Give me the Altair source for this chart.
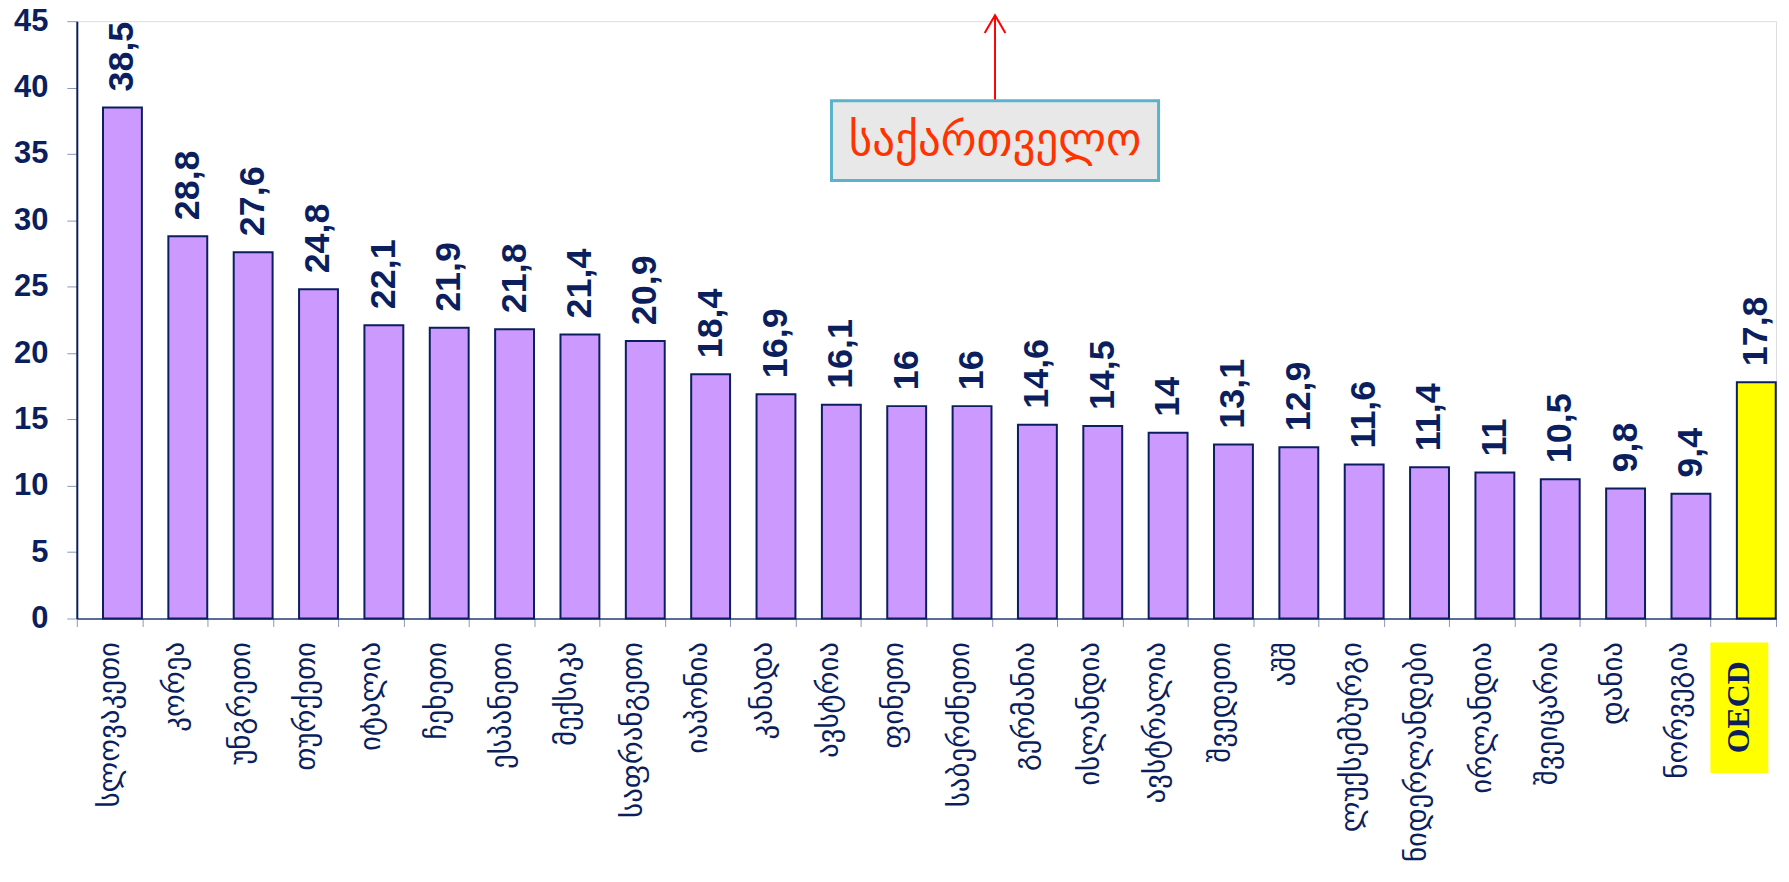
import altair as alt
import pandas as pd

categories = ["სლოვაკეთი", "კორეა", "უნგრეთი", "თურქეთი", "იტალია", "ჩეხეთი",
              "ესპანეთი", "მექსიკა", "საფრანგეთი", "იაპონია", "კანადა", "ავსტრია",
              "ფინეთი", "საბერძნეთი", "გერმანია", "ისლანდია", "ავსტრალია", "შვედეთი",
              "აშშ", "ლუქსემბურგი", "ნიდერლანდები", "ირლანდია", "შვეიცარია", "დანია",
              "ნორვეგია", "OECD"]
values = [38.5, 28.8, 27.6, 24.8, 22.1, 21.9, 21.8, 21.4, 20.9, 18.4, 16.9, 16.1,
          16, 16, 14.6, 14.5, 14, 13.1, 12.9, 11.6, 11.4, 11, 10.5, 9.8, 9.4, 17.8]
y_ticks = [0, 5, 10, 15, 20, 25, 30, 35, 40, 45]

# annotation: Georgia is off the scale (arrow points above 45)
note_text = "საქართველო"
note_category = "გერმანია"
note_y = 36.0
arrow_from = 39.0
arrow_to = 45.45

labels = [f"{v:g}".replace(".", ",") for v in values]
df = pd.DataFrame({"cat": categories, "val": values, "label": labels})
note_df = pd.DataFrame({"cat": [note_category], "y": [note_y], "y1": [arrow_from],
                        "y2": [arrow_to], "t": [note_text]})
oecd_df = pd.DataFrame({"cat": ["OECD"], "t": ["OECD"]})

NAVY = "#0b1f5e"
W, H = 1704, 599

xscale = alt.Scale(domain=categories, paddingInner=0, paddingOuter=0)
yscale = alt.Scale(domain=[0, 45], nice=False)

x_enc = alt.X("cat:N", sort=categories, scale=xscale, title=None,
              axis=alt.Axis(labelAngle=-90, labelFont="DejaVu Sans", labelFontSize=29,
                            labelColor=NAVY, labelPadding=15, tickBand="extent",
                            tickSize=8, tickColor="#8a98bb", domainColor="#2c3f7a",
                            domainWidth=1.5, labelLimit=400,
                            labelExpr="datum.value == 'OECD' ? '' : datum.value"))
y_enc = alt.Y("val:Q", scale=yscale, title=None,
              axis=alt.Axis(values=y_ticks, labelFont="Liberation Sans", labelFontSize=31,
                            labelFontWeight="bold", labelColor=NAVY, labelPadding=19,
                            tickSize=10, tickColor="#8a98bb", domainColor=NAVY,
                            domainWidth=2, grid=False))

bars = alt.Chart(df).mark_bar(width=39, xOffset=13, stroke=NAVY, strokeWidth=2).encode(
    x=x_enc, y=y_enc,
    color=alt.condition(alt.datum.cat == "OECD", alt.value("#ffff00"), alt.value("#cc99ff")),
)

texts = alt.Chart(df).mark_text(angle=270, align="left", baseline="middle", dx=16,
                                xOffset=13, font="Liberation Sans", fontSize=36,
                                fontWeight="bold", color=NAVY).encode(
    x=alt.X("cat:N", sort=categories, scale=xscale),
    y=alt.Y("val:Q", scale=yscale),
    text="label:N",
)

xn = alt.X("cat:N", sort=categories, scale=xscale, bandPosition=0.05)

arrow_line = alt.Chart(note_df).mark_rule(color="#ff0000", strokeWidth=2).encode(
    x=xn, y=alt.Y("y1:Q", scale=yscale), y2="y2:Q")
arrow_head = alt.Chart(note_df).mark_point(
    shape="M-1,1.72L0,0L1,1.72", size=430, filled=False, stroke="#ff0000",
    strokeWidth=2, opacity=1).encode(x=xn, y=alt.Y("y2:Q", scale=yscale))
note_box = alt.Chart(note_df).mark_point(
    shape="M-1,-0.244H1V0.244H-1Z", size=328 * 328, filled=True, fill="#e8e8e8",
    stroke="#5ab3cb", strokeWidth=3, opacity=1).encode(
    x=xn, y=alt.Y("y:Q", scale=yscale))
note_label = alt.Chart(note_df).mark_text(
    font="DejaVu Sans", fontSize=45, color="#ff3300", baseline="middle").encode(
    x=xn, y=alt.Y("y:Q", scale=yscale), text="t:N")

oecd_box = alt.Chart(oecd_df).mark_bar(width=58, xOffset=-4, color="#ffff00").encode(
    x=alt.X("cat:N", sort=categories, scale=xscale),
    y=alt.value(H + 24), y2=alt.value(H + 155))
oecd_label = alt.Chart(oecd_df).mark_text(
    angle=270, font="Liberation Serif", fontSize=32, fontWeight="bold", color=NAVY,
    align="center", baseline="middle", xOffset=-4).encode(
    x=alt.X("cat:N", sort=categories, scale=xscale),
    y=alt.value(H + 89), text="t:N")

chart = alt.layer(bars, texts, arrow_line, note_box, arrow_head, note_label,
                  oecd_box, oecd_label).properties(
    width=W, height=H,
    autosize=alt.AutoSizeParams(type="none"),
    padding={"left": 69, "top": 12, "right": 5, "bottom": 257},
).configure_view(fill="#ddedf5", stroke="#5b6fa8", strokeWidth=1.5).configure(
    background="white")

chart.save("out.html", embed_options={"renderer": "svg", "actions": False})
